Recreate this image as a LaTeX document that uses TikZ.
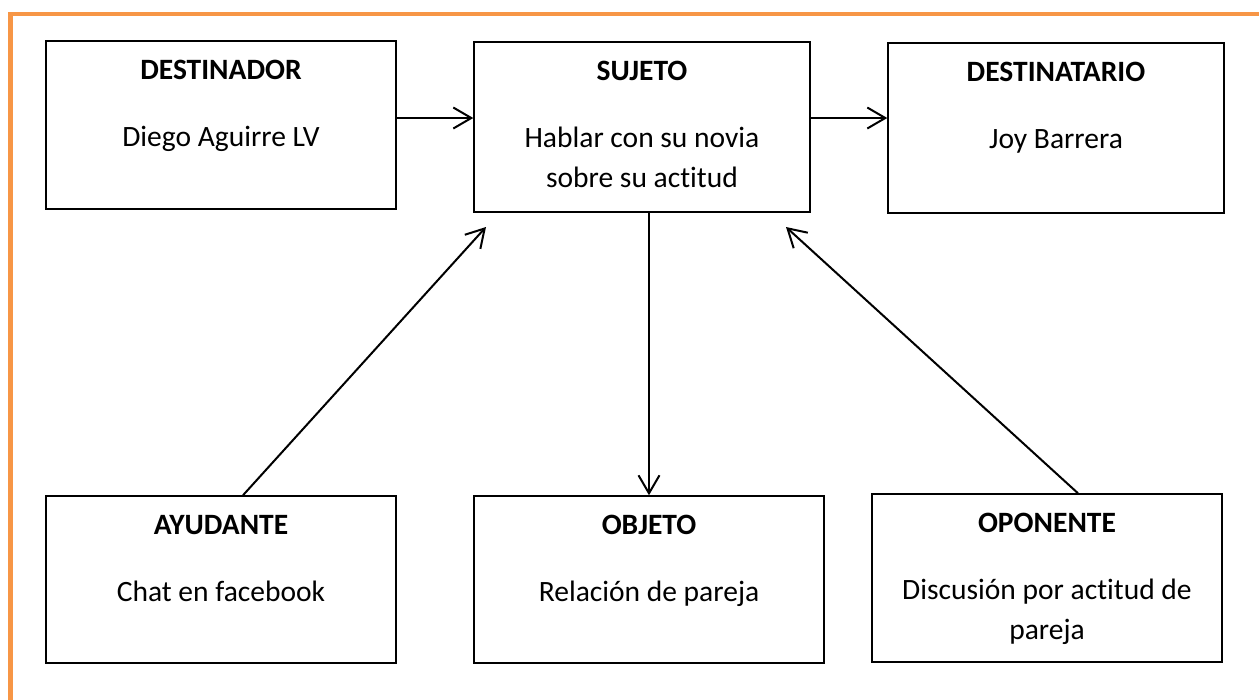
\documentclass[tikz,border=0pt]{standalone}
\usepackage{fontspec}
\setmainfont[Ligatures=NoCommon]{Carlito}
\usetikzlibrary{arrows.meta}
\definecolor{borde}{HTML}{F79646}
% box text: width, height, title, body
\newcommand{\caja}[4]{\parbox[c][#2][t]{#1}{\centering\fontsize{16.8}{22.7}\selectfont
	\rule{0pt}{0.76cm}\textbf{#3}\par\vspace{0.56cm}#4}}

\begin{document}
\begin{tikzpicture}[x=0.02cm, y=-0.02cm,
		cuadro/.style={draw, line width=0.03cm, inner sep=0pt},
		flecha/.style={-{Straight Barb[length=0.36cm,width=0.42cm]}, line width=0.04cm}]
		\useasboundingbox (0,0) rectangle (1259,700);
		% orange frame
		\draw[borde, line width=0.09cm] (10.5,700) -- (10.5,14) -- (1259,14);
		% upper row
		\node[cuadro] (destinador) at (221,125) {\caja{7cm}{3.36cm}{DESTINADOR}{Diego Aguirre LV}};
		\node[cuadro] (sujeto) at (642,127) {\caja{6.72cm}{3.4cm}{SUJETO}{Hablar con su novia\\sobre su actitud}};
		\node[cuadro] (destinatario) at (1056,128) {\caja{6.72cm}{3.4cm}{DESTINATARIO}{Joy Barrera}};
		% lower row
		\node[cuadro] (ayudante) at (221,579.5) {\caja{7cm}{3.34cm}{AYUDANTE}{Chat en facebook}};
		\node[cuadro] (objeto) at (649,579.5) {\caja{7cm}{3.34cm}{OBJETO}{Relación de pareja}};
		\node[cuadro] (oponente) at (1047,578) {\caja{7cm}{3.36cm}{OPONENTE}{Discusión por actitud de\\pareja}};
		% arrows
		\draw[flecha] ([yshift=0.14cm]destinador.east) -- ([yshift=0.14cm]destinador.east -| sujeto.west);
		\draw[flecha] ([yshift=0.18cm]sujeto.east) -- ([yshift=0.18cm]sujeto.east -| destinatario.west);
		\draw[flecha] (objeto.north |- sujeto.south) -- (objeto.north);
		\coordinate (puntaA) at (486,227);
		\coordinate (puntaO) at (786,227);
		\draw[flecha] ([xshift=0.44cm]ayudante.north) -- (puntaA);
		\draw[flecha] ([xshift=0.62cm]oponente.north) -- (puntaO);
	\end{tikzpicture}
\end{document}
